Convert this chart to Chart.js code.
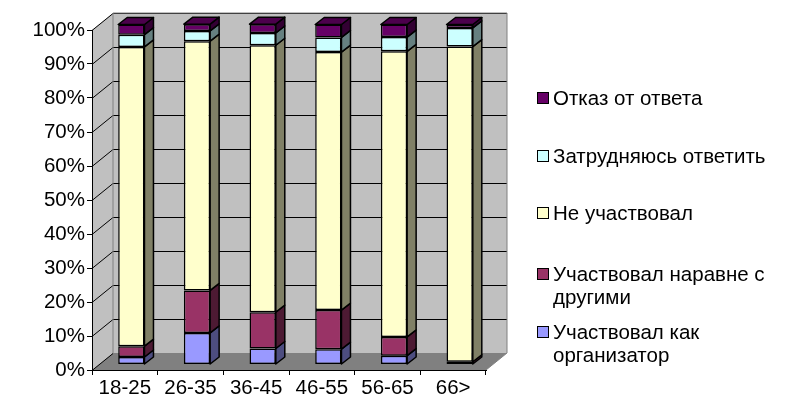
<!DOCTYPE html>
<html>
    <head>
        <meta http-equiv="Content-Type" content="text/html; charset=UTF-8">
        <title>Участие по возрастам</title>
        <script src="https://cdn.jsdelivr.net/npm/chart.js@4/dist/chart.umd.min.js"></script>
        <style type="text/css">
            html, body { margin: 0; padding: 0; background: #fff; }
            .wrap { position: relative; width: 789px; height: 404px; }
            #legend { position: absolute; left: 0; top: 0; font-family: "Liberation Sans", Arial, sans-serif; font-size: 20.5px; color: #000; }
            .item { position: absolute; left: 537px; width: 252px; line-height: 23px; }
            .box { position: absolute; left: 0; top: 6px; width: 10px; height: 10px; border: 1px solid #000; }
            .txt { position: absolute; left: 16px; width: 236px; }
        </style>
    </head>
    <body>
        <div class="wrap">
            <canvas id="chart" width="789" height="404"></canvas>
            <div id="legend"></div>
        </div>

        <script>
            // age groups
            var categories = ['18-25', '26-35', '36-45', '46-55', '56-65', '66>'];
            // percent values, bottom of stack first
            var organizer = [2.2, 9.3, 4.7, 4.5, 2.6, 0];
            var withOthers = [3.2, 12.5, 10.7, 11.5, 5.5, 0.8];
            var notTaken = [88, 73.3, 78.5, 75.9, 84, 92.7];
            var hardToSay = [3.6, 3, 3.6, 4.3, 4.2, 5.5];
            var refused = [3, 2, 2.6, 3.8, 3.7, 1];
            var seriesNames = ['Участвовал как организатор', 'Участвовал наравне с другими', 'Не участвовал', 'Затрудняюсь ответить', 'Отказ от ответа'];
            var yTicks = [0, 10, 20, 30, 40, 50, 60, 70, 80, 90, 100];

            var fronts = ['#9999FF', '#993366', '#FFFFCC', '#CCFFFF', '#660066'];
            var sides = ['#4D4D80', '#4D1A33', '#808066', '#668080', '#330033'];
            var tops = ['#7A7ACC', '#7A2952', '#CCCCA3', '#A3CCCC', '#4C004C'];

            // depth of the walls and of the bars
            var wallDX = 21, wallDY = -17;
            var barShiftX = 6.5, barShiftY = -5.5;
            var barDX = 9, barDY = -7;

            var walls = {
                id: 'walls',
                beforeDraw: function (chart) {
                    var ctx = chart.ctx;
                    var a = chart.chartArea;
                    var y = chart.scales.y;
                    ctx.save();
                    // left wall
                    ctx.fillStyle = '#C0C0C0';
                    ctx.beginPath();
                    ctx.moveTo(a.left, a.bottom);
                    ctx.lineTo(a.left, a.top);
                    ctx.lineTo(a.left + wallDX, a.top + wallDY);
                    ctx.lineTo(a.left + wallDX, a.bottom + wallDY);
                    ctx.closePath();
                    ctx.fill();
                    // back wall
                    ctx.fillRect(a.left + wallDX, a.top + wallDY, a.right - a.left, a.bottom - a.top);
                    // floor
                    ctx.fillStyle = '#808080';
                    ctx.beginPath();
                    ctx.moveTo(a.left, a.bottom);
                    ctx.lineTo(a.right, a.bottom);
                    ctx.lineTo(a.right + wallDX, a.bottom + wallDY);
                    ctx.lineTo(a.left + wallDX, a.bottom + wallDY);
                    ctx.closePath();
                    ctx.fill();
                    ctx.strokeStyle = '#000';
                    ctx.lineWidth = 1;
                    for (var i = 0; i < yTicks.length; i++) {
                        var py = Math.round(y.getPixelForValue(yTicks[i])) + 0.5;
                        ctx.beginPath();
                        ctx.moveTo(a.left, py);
                        ctx.lineTo(a.left + wallDX, py + wallDY);
                        if (i > 0) ctx.lineTo(a.right + wallDX, py + wallDY);
                        ctx.stroke();
                    }
                    ctx.strokeStyle = '#808080';
                    ctx.beginPath();
                    ctx.moveTo(a.left + wallDX, a.bottom + wallDY);
                    ctx.lineTo(a.left + wallDX, a.top + wallDY);
                    ctx.lineTo(a.right + wallDX, a.top + wallDY);
                    ctx.lineTo(a.right + wallDX, a.bottom + wallDY);
                    ctx.lineTo(a.right, a.bottom);
                    ctx.stroke();
                    ctx.restore();
                },
                beforeDatasetsDraw: function (chart) {
                    chart.ctx.save();
                    chart.ctx.translate(barShiftX, barShiftY);
                },
                afterDatasetsDraw: function (chart) {
                    var ctx = chart.ctx;
                    ctx.lineWidth = 1.5;
                    ctx.strokeStyle = '#000';
                    ctx.lineJoin = 'round';
                    var n = chart.data.datasets.length;
                    for (var d = 0; d < n; d++) {
                        var els = chart.getDatasetMeta(d).data;
                        for (var i = 0; i < els.length; i++) {
                            var e = els[i];
                            var top = Math.min(e.y, e.base), bot = Math.max(e.y, e.base);
                            if (bot - top < 0.5) continue;
                            var l = e.x - e.width / 2, r = e.x + e.width / 2;
                            ctx.fillStyle = sides[d];
                            ctx.beginPath();
                            ctx.moveTo(r, top);
                            ctx.lineTo(r + barDX, top + barDY);
                            ctx.lineTo(r + barDX, bot + barDY);
                            ctx.lineTo(r, bot);
                            ctx.closePath();
                            ctx.fill();
                            ctx.stroke();
                            // top face only on the highest segment
                            var above = 0;
                            for (var k = d + 1; k < n; k++) above += chart.data.datasets[k].data[i];
                            if (above === 0) {
                                ctx.fillStyle = tops[d];
                                ctx.beginPath();
                                ctx.moveTo(l, top);
                                ctx.lineTo(l + barDX, top + barDY);
                                ctx.lineTo(r + barDX, top + barDY);
                                ctx.lineTo(r, top);
                                ctx.closePath();
                                ctx.fill();
                                ctx.stroke();
                            }
                        }
                    }
                    ctx.restore();
                }
            };

            var seriesData = [organizer, withOthers, notTaken, hardToSay, refused];
            var datasets = [];
            for (var s = 0; s < seriesData.length; s++) {
                datasets.push({
                    label: seriesNames[s],
                    data: seriesData[s],
                    backgroundColor: fronts[s],
                    borderColor: '#000',
                    borderWidth: 1.5,
                    borderSkipped: false,
                    barPercentage: 0.4,
                    categoryPercentage: 1
                });
            }

            var font = { family: '"Liberation Sans", Arial, sans-serif', size: 20.5 };

            var chart = new Chart(document.getElementById('chart').getContext('2d'), {
                type: 'bar',
                data: { labels: categories, datasets: datasets },
                options: {
                    responsive: false,
                    animation: false,
                    layout: { padding: { left: 0, top: 30, right: 303, bottom: 0 } },
                    plugins: { legend: { display: false }, tooltip: { enabled: false } },
                    scales: {
                        x: {
                            stacked: true,
                            afterFit: function (scale) { scale.height = 34; },
                            grid: { offset: true, drawOnChartArea: false, tickLength: 5, color: '#000' },
                            border: { display: true, color: '#000' },
                            ticks: { font: font, color: '#000', padding: 1, maxRotation: 0 }
                        },
                        y: {
                            stacked: true,
                            min: 0,
                            max: 100,
                            afterFit: function (scale) { scale.width = 92; },
                            grid: { drawOnChartArea: false, tickLength: 5, color: '#000' },
                            border: { display: true, color: '#000' },
                            ticks: {
                                stepSize: 10,
                                font: font,
                                color: '#000',
                                padding: 2,
                                callback: function (v) { return v + '%'; }
                            }
                        }
                    }
                },
                plugins: [walls]
            });

            // legend, top series first
            var legendTops = [86, 144, 201, 262, 320];
            var legend = document.getElementById('legend');
            for (var j = datasets.length - 1, p = 0; j >= 0; j--, p++) {
                var item = document.createElement('div');
                item.className = 'item';
                item.style.top = legendTops[p] + 'px';
                item.innerHTML = '<span class="box" style="background:' + datasets[j].backgroundColor + '"></span>' +
                    '<span class="txt">' + datasets[j].label + '</span>';
                legend.appendChild(item);
            }
        </script>
    </body>
</html>
